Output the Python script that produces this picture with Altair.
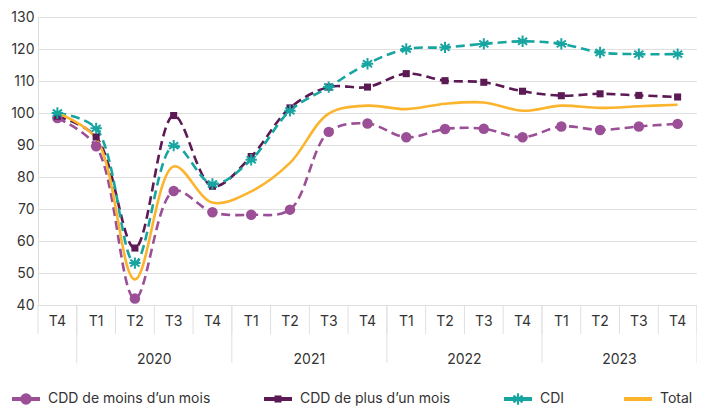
import altair as alt
import pandas as pd

# ---- data ----
quarters = ["T4", "T1", "T2", "T3", "T4", "T1", "T2", "T3", "T4",
            "T1", "T2", "T3", "T4", "T1", "T2", "T3", "T4"]
years = [2019, 2020, 2020, 2020, 2020, 2021, 2021, 2021, 2021,
         2022, 2022, 2022, 2022, 2023, 2023, 2023, 2023]
year_labels = ["2020", "2021", "2022", "2023"]

series_names = ["CDD de moins d\u2019un mois", "CDD de plus d\u2019un mois", "CDI", "Total"]
cdd_moins = [98.4, 89.6, 42.0, 75.6, 69.0, 68.2, 69.8, 94.1, 96.7,
             92.4, 95.0, 95.1, 92.4, 95.8, 94.7, 95.8, 96.6]
cdd_plus = [99.0, 92.5, 57.8, 99.2, 77.1, 86.4, 101.6, 108.1, 108.1,
            112.3, 110.1, 109.6, 106.8, 105.4, 106.0, 105.5, 105.0]
cdi = [100.0, 95.2, 53.1, 89.8, 77.8, 85.4, 100.7, 108.1, 115.4,
       120.0, 120.5, 121.6, 122.4, 121.6, 118.9, 118.4, 118.4]
total = [100.0, 92.0, 48.0, 83.3, 72.0, 75.5, 84.4, 99.8, 102.3,
         101.2, 102.9, 103.3, 100.7, 102.3, 101.6, 102.1, 102.6]
y_ticks = [40, 50, 60, 70, 80, 90, 100, 110, 120, 130]

# ---- styling / layout ----
FONT = "Inter"
TXT = "#333333"
GRID = "#e0e0e0"
colors = ["#9b4f96", "#5c1a55", "#17a5a2", "#fbb42c"]
ASTERISK = "M0,-1V1M-0.8,-0.6L0.8,0.6M-0.8,0.6L0.8,-0.6M-1,0H1"
W, H = 659, 288

n = len(quarters)
xscale = alt.Scale(domain=[-0.5, n - 0.5], nice=False, zero=False)
yscale = alt.Scale(domain=[40, 130], nice=False, zero=False)
yaxis = alt.Axis(values=y_ticks, title=None, domain=False, ticks=False,
                 grid=True, gridColor=GRID, gridWidth=1, labelOverlap=False,
                 labelFont=FONT, labelFontSize=14, labelColor=TXT,
                 labelPadding=4)

values = [cdd_moins, cdd_plus, cdi, total]
dfs = [pd.DataFrame({"i": list(range(n)), "v": v, "q": quarters, "yr": years}) for v in values]

layers = []

# x axis separators and labels
sep_df = pd.DataFrame({"p": [k - 0.5 for k in range(n + 1)]})
year_sep = [k - 0.5 for k in range(1, n + 1) if k == n or years[k] != years[k - 1]]
ysep_df = pd.DataFrame({"p": year_sep})
layers.append(alt.Chart(sep_df).mark_rule(color=GRID, strokeWidth=1).encode(
    x=alt.X("p:Q", scale=xscale, axis=None), y=alt.value(H), y2=alt.value(H + 29)))
layers.append(alt.Chart(ysep_df).mark_rule(color=GRID, strokeWidth=1).encode(
    x=alt.X("p:Q", scale=xscale, axis=None), y=alt.value(H), y2=alt.value(H + 58)))
layers.append(alt.Chart(dfs[0]).mark_text(font=FONT, fontSize=14, color=TXT,
                                           baseline="middle", align="center").encode(
    x=alt.X("i:Q", scale=xscale, axis=None), y=alt.value(H + 16.5), text="q:N"))
yr_centers = []
for yl in year_labels:
    idx = [k for k in range(n) if str(years[k]) == yl]
    yr_centers.append((min(idx) + max(idx)) / 2)
yr_df = pd.DataFrame({"c": yr_centers, "t": year_labels})
layers.append(alt.Chart(yr_df).mark_text(font=FONT, fontSize=14, color=TXT,
                                          baseline="middle", align="center").encode(
    x=alt.X("c:Q", scale=xscale, axis=None), y=alt.value(H + 54.5), text="t:N"))

# lines
for k, df in enumerate(dfs):
    if k < 3:
        m = alt.Chart(df).mark_line(color=colors[k], strokeWidth=2.6, strokeDash=[9, 5],
                                    interpolate="catmull-rom")
    else:
        m = alt.Chart(df).mark_line(color=colors[k], strokeWidth=2.6,
                                    interpolate="catmull-rom")
    layers.append(m.encode(x=alt.X("i:Q", scale=xscale, axis=None),
                           y=alt.Y("v:Q", scale=yscale, axis=yaxis)))

# markers
marker_specs = [
    dict(shape="circle", filled=True, size=110, opacity=1),
    dict(shape="square", filled=True, size=50, opacity=1),
    dict(shape=ASTERISK, filled=False, size=130, strokeWidth=2, opacity=1),
]
for k in range(3):
    layers.append(alt.Chart(dfs[k]).mark_point(color=colors[k], **marker_specs[k]).encode(
        x=alt.X("i:Q", scale=xscale, axis=None), y=alt.Y("v:Q", scale=yscale, axis=yaxis)))

# legend (manual)
LEG_Y = 382
leg_centers = [-12, 240, 480, 600]
for k, name in enumerate(series_names):
    cx = leg_centers[k]
    ldf = pd.DataFrame({"t": [name]})
    layers.append(alt.Chart(ldf).mark_rule(color=colors[k], strokeWidth=4).encode(
        x=alt.value(cx - 14), x2=alt.value(cx + 14), y=alt.value(LEG_Y)))
    if k < 3:
        spec = dict(marker_specs[k])
        if k == 0:
            spec["size"] = 130
        layers.append(alt.Chart(ldf).mark_point(color=colors[k], **spec).encode(
            x=alt.value(cx), y=alt.value(LEG_Y)))
    layers.append(alt.Chart(ldf).mark_text(font=FONT, fontSize=14, color=TXT,
                                            align="left", baseline="middle").encode(
        x=alt.value(cx + 22), y=alt.value(LEG_Y), text="t:N"))

chart = alt.layer(*layers).properties(
    width=W, height=H,
    padding={"left": 30, "top": 9, "right": 0, "bottom": 102},
    autosize=alt.AutoSizeParams(type="none"),
).configure_view(strokeWidth=0).configure(background="white")

chart.save("out.html", embed_options={"renderer": "svg", "actions": False})
